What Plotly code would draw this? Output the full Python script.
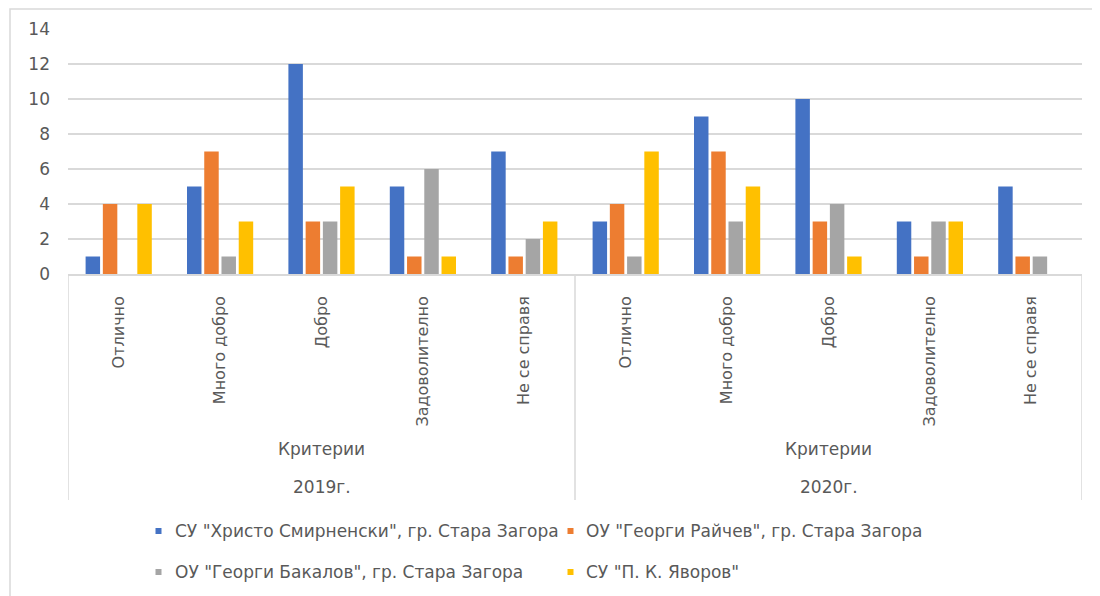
import plotly.graph_objects as go

criteria = ["Отлично", "Много добро", "Добро", "Задоволително", "Не се справя"]
years = ["2019г.", "2020г."]
group_label = "Критерии"
series_names = [
    'СУ "Христо Смирненски", гр. Стара Загора',
    'ОУ "Георги Райчев", гр. Стара Загора',
    'ОУ "Георги Бакалов", гр. Стара Загора',
    'СУ "П. К. Яворов"',
]
smirnenski = [1, 5, 12, 5, 7, 3, 9, 10, 3, 5]
raychev = [4, 7, 3, 1, 1, 4, 7, 3, 1, 1]
bakalov = [0, 1, 3, 6, 2, 1, 3, 4, 3, 1]
yavorov = [4, 3, 5, 1, 3, 7, 5, 1, 3, 0]
colors = ["#4472C4", "#ED7D31", "#A5A5A5", "#FFC000"]
y_ticks = [0, 2, 4, 6, 8, 10, 12, 14]

FONT = "'DejaVu Sans', sans-serif"
TXT = "#595959"
LINE = "#D9D9D9"

# page body has an 8px margin; work in screen pixels and convert
OFF = 8
W, H = 1100 - OFF, 596 - OFF
PL, PR, PT, PB = 68, 1082, 29, 274  # screen px of plot area


def ypaper(py):
    return (PB - py) / (PB - PT)


def xpaper(px):
    return (px - PL) / (PR - PL)


x_idx = list(range(len(years) * len(criteria)))
tick_text = criteria * len(years)

fig = go.Figure()
all_series = [smirnenski, raychev, bakalov, yavorov]
for name, vals, col in zip(series_names, all_series, colors):
    fig.add_trace(go.Bar(
        x=x_idx, y=vals, name=name, marker=dict(color=col, line=dict(width=0)),
        showlegend=False,
    ))

fig.update_layout(
    width=W, height=H,
    margin=dict(l=PL - OFF, r=W - (PR - OFF), t=PT - OFF,
                b=H - (PB - OFF), autoexpand=False),
    paper_bgcolor="white", plot_bgcolor="white",
    barmode="group", bargap=0.32, bargroupgap=0.16,
    font=dict(family=FONT, size=16, color=TXT),
)
fig.update_xaxes(
    range=[-0.5, len(x_idx) - 0.5], tickmode="array", tickvals=x_idx, ticktext=tick_text,
    tickangle=-90, showgrid=False, showline=True, linecolor=LINE, linewidth=1.5,
    ticks="", tickfont=dict(family=FONT, size=16, color=TXT), zeroline=False,
    ticklabelstandoff=14,
)
fig.update_yaxes(
    range=[0, 14], tickmode="array", tickvals=y_ticks, showgrid=True, gridcolor=LINE,
    gridwidth=1.5, showline=False, zeroline=False, ticks="",
    tickfont=dict(family=FONT, size=17, color=TXT), ticklabelstandoff=17,
)

# group separators in the category axis
sep_bottom = ypaper(500)
for xv in [-0.5, 4.5, 9.5]:
    fig.add_shape(type="line", xref="x", yref="paper", x0=xv, x1=xv, y0=0, y1=sep_bottom,
                  line=dict(color=LINE, width=1.5))

for i, yr in enumerate(years):
    cx = i * len(criteria) + (len(criteria) - 1) / 2
    fig.add_annotation(x=cx, y=ypaper(449), xref="x", yref="paper", text=group_label,
                       showarrow=False, yanchor="middle",
                       font=dict(family=FONT, size=17, color=TXT))
    fig.add_annotation(x=cx, y=ypaper(487), xref="x", yref="paper", text=yr,
                       showarrow=False, yanchor="middle",
                       font=dict(family=FONT, size=17, color=TXT))

# legend (two columns, two rows)
legend_slots = [(158.5, 173, 531), (570.5, 584, 531), (158.5, 173, 572), (570.5, 584, 572)]
for name, col, (sx, tx, ty) in zip(series_names, colors, legend_slots):
    fig.add_shape(type="rect", xref="paper", yref="paper",
                  x0=xpaper(sx - 3), x1=xpaper(sx + 3), y0=ypaper(ty + 3), y1=ypaper(ty - 3),
                  line=dict(width=0), fillcolor=col)
    fig.add_annotation(x=xpaper(tx), y=ypaper(ty), xref="paper", yref="paper", text=name,
                       showarrow=False, xanchor="left", yanchor="middle",
                       font=dict(family=FONT, size=17, color=TXT))

# chart border
fig.add_shape(type="rect", xref="paper", yref="paper",
              x0=xpaper(10), x1=xpaper(1120), y0=ypaper(620), y1=ypaper(OFF + 1),
              line=dict(color=LINE, width=1.5), fillcolor="rgba(0,0,0,0)")

fig.write_html("out.html")
